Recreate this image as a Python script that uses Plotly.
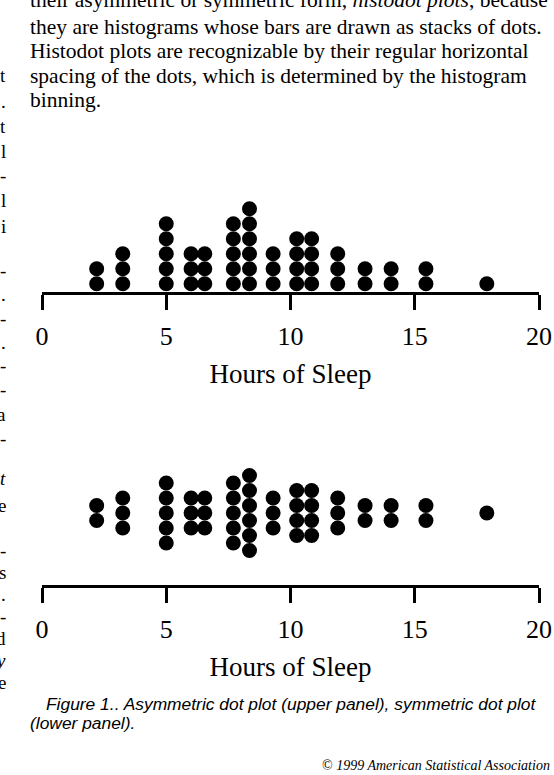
import plotly.graph_objects as go

# bin centres (hours of sleep) and number of dots stacked in each bin
hours = [2.2, 3.25, 5.0, 6.0, 6.55, 7.7, 8.35, 9.3, 10.25, 10.85, 11.9, 13.0, 14.05, 15.45, 17.9]
counts = [2, 3, 5, 3, 3, 5, 6, 3, 4, 4, 3, 2, 2, 2, 1]
tick_vals = [0, 5, 10, 15, 20]
tick_text = ["0", "5", "10", "15", "20"]
axis_title = "Hours of Sleep"

body_lines = [
    "their asymmetric or symmetric form, <i>histodot plots</i>, because",
    "they are histograms whose bars are drawn as stacks of dots.",
    "Histodot plots are recognizable by their regular horizontal",
    "spacing of the dots, which is determined by the histogram",
    "binning.",
]
caption_1 = "Figure 1.. Asymmetric dot plot (upper panel), symmetric dot plot"
caption_2 = "(lower panel)."
credit = "\u00a9 <i>1999 American Statistical Association</i>"
# bits of the neighbouring column that show at the left edge
margin_chars = ["t", ".", "t", "l", "-", "l", "i", "-", ".", "-", ".", "-", "-", "a", "-",
                "<i>t</i>", "e", "-", "s", ".", "-", "d", "<i>y</i>", "e"]
margin_rows = [76, 101, 126, 151, 176, 201, 226, 270, 294, 318, 342, 366, 390, 414, 438,
               478, 505, 550, 572, 594, 616, 638, 660, 682]

W, H = 554, 775
SERIF = "Liberation Serif"
SANS = "Liberation Sans"


def py(p):
    # pixel row from top -> paper y
    return 1 - p / H


# stack the dots: upper panel piles up from the axis, lower panel is centred
up_x, up_y, lo_x, lo_y = [], [], [], []
for h, n in zip(hours, counts):
    for i in range(n):
        up_x.append(h)
        up_y.append(0.55 + i)
        lo_x.append(h)
        lo_y.append(4.8 + i - (n - 1) / 2)

fig = go.Figure()
dot = dict(size=15, color="black", line=dict(width=0))
fig.add_trace(go.Scatter(x=up_x, y=up_y, mode="markers", marker=dot,
                         xaxis="x", yaxis="y", cliponaxis=False, hoverinfo="x"))
fig.add_trace(go.Scatter(x=lo_x, y=lo_y, mode="markers", marker=dot,
                         xaxis="x2", yaxis="y2", cliponaxis=False, hoverinfo="x"))

xax = dict(
    domain=[42 / W, 539 / W], range=[0, 20], showgrid=False, zeroline=False,
    showline=True, linecolor="black", linewidth=2.5,
    ticks="outside", ticklen=15, tickwidth=2.5, tickcolor="black",
    tickvals=tick_vals, ticktext=tick_text, ticklabelstandoff=4,
    tickfont=dict(family=SERIF, size=26, color="black"),
    title=dict(text=axis_title, font=dict(family=SERIF, size=27, color="black"), standoff=15),
    automargin=False, fixedrange=True,
)
fig.update_layout(
    width=W, height=H, autosize=False,
    margin=dict(l=0, r=0, t=0, b=0, pad=0, autoexpand=False),
    paper_bgcolor="white", plot_bgcolor="white",
    showlegend=False,
    xaxis=dict(xax, anchor="y"),
    xaxis2=dict(xax, anchor="y2"),
    yaxis=dict(domain=[py(292), py(202)], range=[0, 6], visible=False, fixedrange=True),
    yaxis2=dict(domain=[py(585), py(465)], range=[0, 8], visible=False, fixedrange=True),
)

rows = [0, 27, 51, 76, 100]
for txt, r in zip(body_lines, rows):
    fig.add_annotation(text=txt, x=28 / W, y=py(r), xref="paper", yref="paper",
                       xanchor="left", yanchor="middle", showarrow=False,
                       font=dict(family=SERIF, size=21.5, color="black"))

for ch, r in zip(margin_chars, margin_rows):
    fig.add_annotation(text=ch, x=8 / W, y=py(r), xref="paper", yref="paper",
                       xanchor="right", yanchor="middle", showarrow=False,
                       font=dict(family=SERIF, size=19, color="black"))

fig.add_annotation(text="<i>" + caption_1 + "</i>", x=44 / W, y=py(704), xref="paper", yref="paper",
                   xanchor="left", yanchor="middle", showarrow=False,
                   font=dict(family=SANS, size=17.4, color="black"))
fig.add_annotation(text="<i>" + caption_2 + "</i>", x=28 / W, y=py(723), xref="paper", yref="paper",
                   xanchor="left", yanchor="middle", showarrow=False,
                   font=dict(family=SANS, size=17.4, color="black"))
fig.add_annotation(text=credit, x=552 / W, y=py(765), xref="paper", yref="paper",
                   xanchor="right", yanchor="middle", showarrow=False,
                   font=dict(family=SERIF, size=14, color="black"))

fig.write_html("out.html", config={"displayModeBar": False},
               post_script="document.body.style.margin='0px';")
